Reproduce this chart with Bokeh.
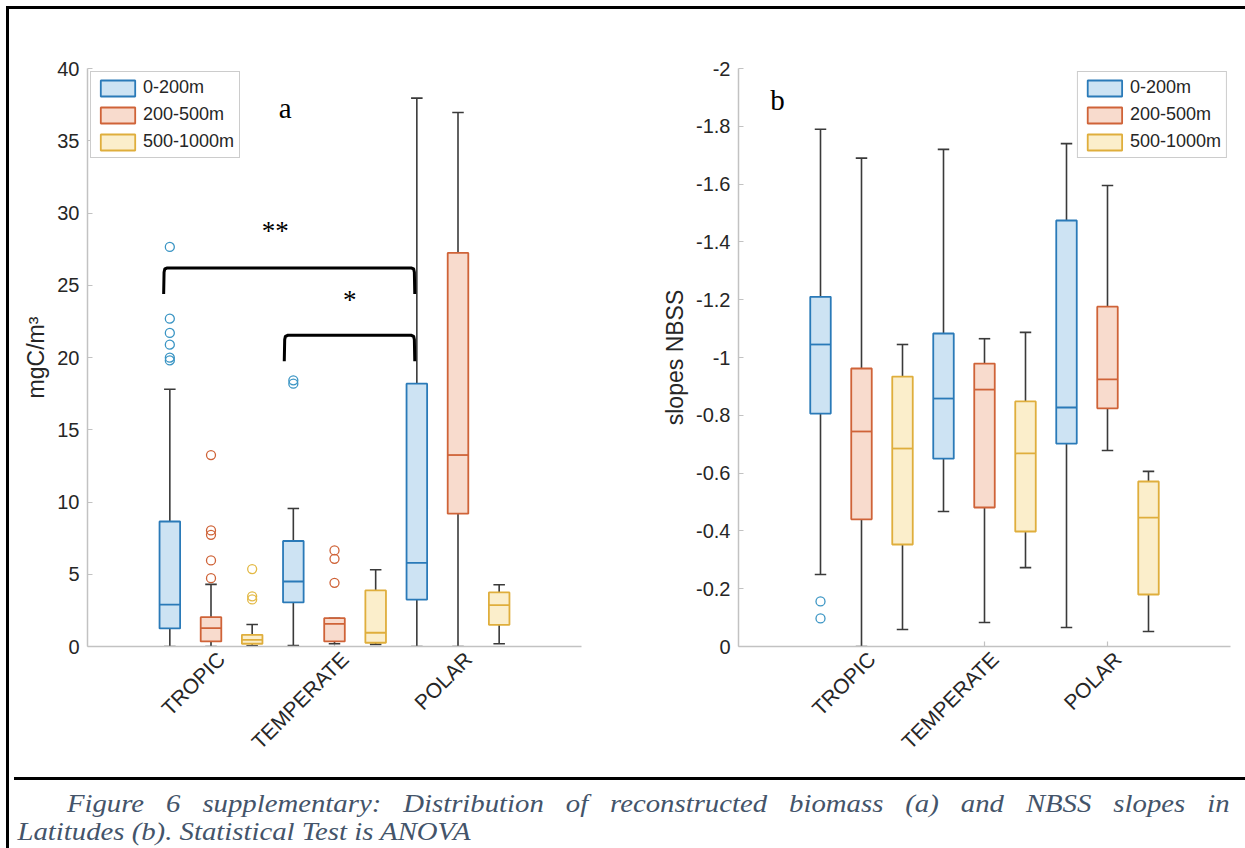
import math
from bokeh.plotting import figure
from bokeh.models import (Range1d, FixedTicker, Legend, LegendItem, Label, Div,
                          CustomJSTickFormatter, ColumnDataSource)
from bokeh.layouts import row, column
from bokeh.embed import file_html
from bokeh.resources import INLINE
from bokeh.core.properties import value

zones = ["TROPIC", "TEMPERATE", "POLAR"]
depths = ["0-200m", "200-500m", "500-1000m"]

# Reconstructed biomass (mgC/m3): box statistics, zone by zone, depth classes inside each zone
bio_wlo = [0.0, 0.0, 0.05, 0.07, 0.19, 0.15, 0.0, 0.0, 0.19]
bio_q1 = [1.25, 0.35, 0.19, 3.05, 0.35, 0.26, 3.25, 9.19, 1.5]
bio_med = [2.9, 1.27, 0.46, 4.5, 1.57, 0.95, 5.79, 13.25, 2.86]
bio_q3 = [8.65, 2.03, 0.81, 7.3, 1.96, 3.88, 18.19, 27.24, 3.74]
bio_whi = [17.8, 4.3, 1.52, 9.55, 1.96, 5.31, 37.95, 36.96, 4.27]
bio_out_box = [0, 0, 0, 0, 0, 0, 1, 1, 1, 1, 1, 2, 2, 2, 3, 3, 4, 4, 4]
bio_out_val = [27.65, 22.69, 21.7, 20.89, 19.99, 19.8,
               13.25, 8.03, 7.73, 5.96, 4.73,
               5.36, 3.47, 3.26,
               18.42, 18.19,
               6.65, 6.07, 4.41]

# NBSS slopes: same box order
slp_wlo = [-0.249, 0.0, -0.059, -0.467, -0.083, -0.273, -0.066, -0.678, -0.052]
slp_q1 = [-0.806, -0.44, -0.353, -0.65, -0.481, -0.398, -0.702, -0.824, -0.18]
slp_med = [-1.045, -0.744, -0.685, -0.858, -0.889, -0.668, -0.827, -0.924, -0.446]
slp_q3 = [-1.21, -0.962, -0.934, -1.083, -0.979, -0.848, -1.474, -1.176, -0.571]
slp_whi = [-1.79, -1.69, -1.045, -1.72, -1.065, -1.087, -1.74, -1.595, -0.606]
slp_out_box = [0, 0]
slp_out_val = [-0.156, -0.097]

# ANOVA significance brackets on the biomass panel
sig_labels = ["**", "*"]
sig_left = [0.85, 3.78]
sig_right = [6.95, 6.95]
sig_top = [26.2, 21.54]
sig_foot = [24.4, 19.74]
sig_text_x = [3.56, 5.37]
sig_text_y = [28.75, 23.95]

EDGE = ["#2a7ab8", "#cf6338", "#dfae3c"]
FILL = ["#cde3f3", "#f8dbcd", "#fbeecb"]
OUTC = ["#3b95c4", "#cf6338", "#e3b945"]
WHISKER = "#3a3a3a"
AXIS = "#c2c2c2"
TEXT = "#262626"
SANS = "Liberation Sans"
SERIF = "Liberation Serif"
FRAME_H = 578

positions = list(range(1, 10))          # three box slots per zone
zone_ticks = [positions[3 * k + 1] for k in range(len(zones))]
label_shift = 0.25                       # rotated zone names sit a little right of their slot


def make_fig(y_start, y_end, yticks, left, right, width):
    p = figure(frame_width=width, frame_height=FRAME_H,
               x_range=Range1d(-1, 11), y_range=Range1d(y_start, y_end),
               min_border_left=left, min_border_right=right,
               min_border_top=59, min_border_bottom=126,
               output_backend="svg", toolbar_location=None)
    p.outline_line_color = None
    p.xgrid.visible = False
    p.ygrid.visible = False
    p.background_fill_color = "white"
    p.border_fill_color = "white"
    for ax in (p.xaxis[0], p.yaxis[0]):
        ax.axis_line_color = AXIS
        ax.axis_line_width = 1.5
        ax.major_tick_line_color = AXIS
        ax.major_tick_in = 5
        ax.major_tick_out = 0
        ax.minor_tick_line_color = None
        ax.major_label_text_font = SANS
        ax.major_label_text_font_size = "20px"
        ax.major_label_text_color = TEXT
    p.yaxis[0].ticker = FixedTicker(ticks=yticks)
    p.yaxis[0].major_label_standoff = 8
    p.yaxis[0].axis_label_text_font = SANS
    p.yaxis[0].axis_label_text_font_size = "23px"
    p.yaxis[0].axis_label_text_font_style = "normal"
    p.yaxis[0].axis_label_text_color = TEXT
    p.yaxis[0].axis_label_standoff = 5
    label_pos = [t + label_shift for t in zone_ticks]
    p.xaxis[0].ticker = FixedTicker(ticks=label_pos)
    p.xaxis[0].major_label_overrides = {t: z for t, z in zip(label_pos, zones)}
    p.xaxis[0].major_label_orientation = math.pi / 4
    p.xaxis[0].major_label_standoff = 9
    p.xaxis[0].major_label_text_font_size = "21px"
    p.xaxis[0].major_tick_line_color = None
    # inward tick marks at the zone slots, 5 px tall
    tick_h = 5 * abs(y_end - y_start) / FRAME_H
    p.segment(x0=zone_ticks, y0=[y_start] * 3, x1=zone_ticks,
              y1=[y_start + math.copysign(tick_h, y_end - y_start)] * 3,
              line_color=AXIS, line_width=1.2)
    return p


def draw_boxes(p, wlo, q1, med, q3, whi, out_box, out_val):
    half, cap = 0.25, 0.14
    boxes = []
    for d in range(len(depths)):
        idx = [i for i in range(len(positions)) if i % 3 == d]
        x = [positions[i] for i in idx]
        src = ColumnDataSource(dict(
            x=x,
            xl=[v - half for v in x], xr=[v + half for v in x],
            cl=[v - cap for v in x], cr=[v + cap for v in x],
            wlo=[wlo[i] for i in idx], q1=[q1[i] for i in idx],
            med=[med[i] for i in idx], q3=[q3[i] for i in idx],
            whi=[whi[i] for i in idx]))
        wk = dict(source=src, line_color=WHISKER, line_width=1.6)
        p.segment("x", "q3", "x", "whi", **wk)
        p.segment("x", "q1", "x", "wlo", **wk)
        p.segment("cl", "whi", "cr", "whi", **wk)
        p.segment("cl", "wlo", "cr", "wlo", **wk)
        r = p.quad(left="xl", right="xr", bottom="q1", top="q3", source=src,
                   fill_color=FILL[d], line_color=EDGE[d], line_width=1.8)
        p.segment("xl", "med", "xr", "med", source=src,
                  line_color=EDGE[d], line_width=1.8)
        ox = [positions[b] for b in out_box if b % 3 == d]
        oy = [v for b, v in zip(out_box, out_val) if b % 3 == d]
        if ox:
            p.scatter(ox, oy, marker="circle", size=9, fill_color=None,
                      line_color=OUTC[d], line_width=1.3)
        boxes.append(r)
    return boxes


def add_legend(p, boxes, loc, margin):
    leg = Legend(items=[LegendItem(label=depths[d], renderers=[boxes[d]])
                        for d in range(len(depths))],
                 location=loc, margin=margin, padding=5, spacing=6,
                 glyph_width=43, glyph_height=20, label_height=20,
                 label_standoff=4,
                 label_text_font=SANS, label_text_font_size="18px",
                 label_text_color=TEXT,
                 border_line_color="#9a9a9a", border_line_width=1,
                 background_fill_color="white", background_fill_alpha=1)
    p.add_layout(leg)


# (a) biomass
p1 = make_fig(0, 40, list(range(0, 41, 5)), 78, 39, 494)
p1.yaxis[0].axis_label = "mgC/m³"
b1 = draw_boxes(p1, bio_wlo, bio_q1, bio_med, bio_q3, bio_whi, bio_out_box, bio_out_val)
add_legend(p1, b1, "top_left", 3)

for x0, x1, top, foot in zip(sig_left, sig_right, sig_top, sig_foot):
    rx, ry = 0.09, 0.3
    bx = [x0, x0 + 0.01, x0 + rx * 0.3, x0 + rx, x1 - rx, x1 - rx * 0.3, x1 - 0.01, x1]
    by = [foot, top - ry, top - ry * 0.25, top, top, top - ry * 0.25, top - ry, foot]
    p1.line(bx, by, line_color="black", line_width=3, line_join="round")
p1.text(x=sig_text_x, y=sig_text_y, text=sig_labels,
        text_font=value(SERIF), text_font_size=value("27px"),
        text_align=value("center"), text_baseline=value("alphabetic"),
        text_color="black")
p1.add_layout(Label(x=3.8, y=37.3, text="a", text_font=SERIF,
                    text_font_size="29px", text_align="center",
                    text_baseline="middle", text_color="black"))

# (b) NBSS slopes, axis runs from 0 (bottom) to -2 (top)
slope_ticks = [-k / 5 for k in range(11)]
p2 = make_fig(0, -2, slope_ticks, 118, 15, 492)
p2.yaxis[0].axis_label = "slopes NBSS"
p2.yaxis[0].formatter = CustomJSTickFormatter(
    code="return tick === 0 ? '0' : String(Math.round(tick * 10) / 10);")
b2 = draw_boxes(p2, slp_wlo, slp_q1, slp_med, slp_q3, slp_whi, slp_out_box, slp_out_val)
add_legend(p2, b2, "top_right", 3)
p2.add_layout(Label(x=-0.05, y=-1.89, text="b", text_font=SERIF,
                    text_font_size="29px", text_align="center",
                    text_baseline="middle", text_color="black"))

# caption: slightly widened serif italic, first line justified
caption_html = (
    "<div style=\"width:1236px;box-sizing:border-box;"
    "font-family:'Liberation Serif',serif;font-style:italic;"
    "font-size:25px;line-height:28px;color:#44546a;padding-top:10px;\">"
    "<div style=\"width:1057px;box-sizing:border-box;text-align:justify;"
    "text-align-last:justify;padding-left:46px;white-space:nowrap;"
    "transform:scaleX(1.15);transform-origin:0 0;\">"
    "Figure 6 supplementary: Distribution of reconstructed biomass (a) and NBSS slopes in"
    "</div>"
    "<div style=\"width:900px;padding-left:3px;"
    "transform:scaleX(1.15);transform-origin:0 0;\">"
    "Latitudes (b). Statistical Test is ANOVA</div>"
    "</div>")
cap = Div(text=caption_html, width=1236, height=71,
          styles={"border-top": "3px solid #000"})

page = column(row(p1, p2), cap,
              styles={"border-top": "3px solid #000",
                      "border-left": "3px solid #000",
                      "margin-left": "6px", "margin-top": "6px"})

open("out.html", "w").write(file_html(page, INLINE))
